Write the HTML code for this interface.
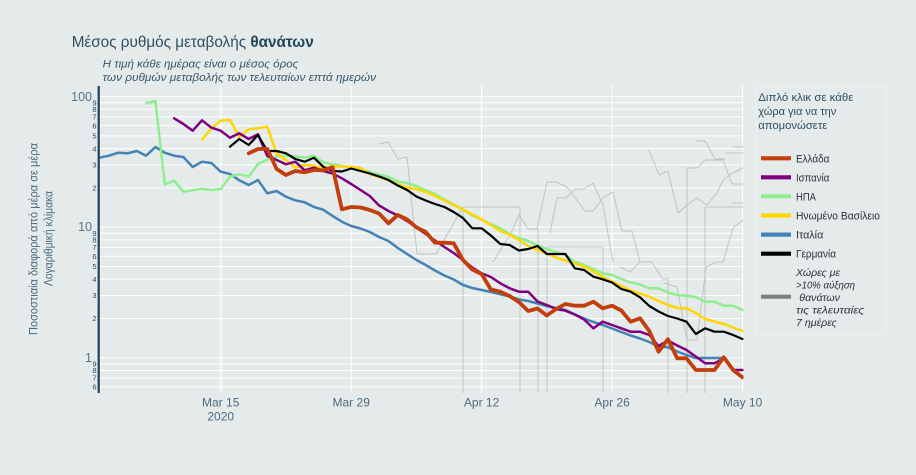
<!DOCTYPE html>
<html><head><meta charset="utf-8"><style>
html,body{margin:0;padding:0;background:#e5ebeb;}
svg{display:block;font-family:"Liberation Sans",Arial,sans-serif;}
</style></head><body>
<svg width="916" height="475" viewBox="0 0 916 475" xmlns="http://www.w3.org/2000/svg">
<rect x="0" y="0" width="916" height="475" fill="#e5ebeb"/>
<defs><clipPath id="pc"><rect x="99" y="86" width="644.5" height="307"/></clipPath></defs>

<!-- gridlines -->
<g stroke="#ffffff" stroke-width="1">
<line x1="99" x2="743" y1="96.6" y2="96.6"/><line x1="99" x2="743" y1="102.6" y2="102.6"/><line x1="99" x2="743" y1="109.3" y2="109.3"/><line x1="99" x2="743" y1="116.8" y2="116.8"/><line x1="99" x2="743" y1="125.6" y2="125.6"/><line x1="99" x2="743" y1="135.9" y2="135.9"/><line x1="99" x2="743" y1="148.6" y2="148.6"/><line x1="99" x2="743" y1="164.9" y2="164.9"/><line x1="99" x2="743" y1="187.9" y2="187.9"/>
<line x1="99" x2="743" y1="227.2" y2="227.2"/><line x1="99" x2="743" y1="233.2" y2="233.2"/><line x1="99" x2="743" y1="239.9" y2="239.9"/><line x1="99" x2="743" y1="247.4" y2="247.4"/><line x1="99" x2="743" y1="256.2" y2="256.2"/><line x1="99" x2="743" y1="266.5" y2="266.5"/><line x1="99" x2="743" y1="279.2" y2="279.2"/><line x1="99" x2="743" y1="295.5" y2="295.5"/><line x1="99" x2="743" y1="318.5" y2="318.5"/>
<line x1="99" x2="743" y1="357.8" y2="357.8"/><line x1="99" x2="743" y1="363.8" y2="363.8"/><line x1="99" x2="743" y1="370.5" y2="370.5"/><line x1="99" x2="743" y1="378" y2="378"/><line x1="99" x2="743" y1="386.8" y2="386.8"/>
<line x1="220.7" x2="220.7" y1="86" y2="393"/><line x1="351.2" x2="351.2" y1="86" y2="393"/><line x1="481.6" x2="481.6" y1="86" y2="393"/><line x1="612.1" x2="612.1" y1="86" y2="393"/><line x1="742.6" x2="742.6" y1="86" y2="393"/>
</g>

<g clip-path="url(#pc)" fill="none" stroke-linejoin="round" stroke-linecap="round">
<!-- grey background countries -->
<g stroke="#8f9494" stroke-width="1" opacity="0.45">
<polyline points="379,144 388,142 398,159 407,157 417,254 436,254 463,207 520,207"/>
<polyline points="463,207 463,393"/>
<polyline points="520,207 520,393"/>
<polyline points="538,229 538,393"/>
<polyline points="493,262 511,233 519,215 528,229 537,229 547,182 556,182 567,187 585,211 593,211 603,198 613,192 622,231 632,231 640,262 652,262 663,280 668,278"/>
<polyline points="668,278 668,393"/>
<polyline points="550,233 557,198 566,198 575,189 584,189 593,183 603,205 609,240 613,262"/>
<polyline points="547,393 547,247 603,247 603,393"/>
<polyline points="649,150 659,175 668,171 678,213 687,205 697,198 707,205 717,193 723,180 733,173 743,168"/>
<polyline points="687,393 687,168 697,168 705,160 723,160 732,184 743,184"/>
<polyline points="705,393 705,207 743,207"/>
<polyline points="697,141 705,141 715,159 725,159"/>
<polyline points="733,147 743,147"/><polyline points="725,153 743,153"/><polyline points="733,203 743,203"/>
<polyline points="664,283 677,287 687,340 697,340 706,267 716,262 723,262 733,228 743,220"/>
<polyline points="620,267 630,272 640,262"/>
</g>

<!-- Italy -->
<polyline stroke="#4682b4" stroke-width="2.5" points="99.5,157.7 108.9,155.7 118.2,152.7 127.5,153.3 136.8,151 146.1,155.7 155.4,147 164.8,152.7 174.1,155.7 183.4,157 192.7,167 202,161.7 211.4,163 220.7,171.7 230,174 239.3,180.3 248.7,185 258,180 267.3,193.3 276.6,191 285.9,196.7 295.3,200.3 304.6,202.3 313.9,207 323.2,209.7 332.6,216 341.9,221.7 351.2,226 360.5,228.5 369.8,232 379.1,237 388.5,241 397.8,248 407.1,254 416.4,260 425.7,265 435,270.5 444.4,275.5 453.7,279.5 463,285 472.3,288 481.6,290 490.9,292 500.3,294.3 509.6,296.5 518.9,299.5 528.2,301 537.5,303.5 546.8,306 556.1,308 565.4,310 574.8,314.5 584.1,318.5 593.4,322 602.7,325 612,328.5 621.3,332 630.6,335.5 640,338.5 649.3,342 658.6,346.5 667.9,347.3 677.2,351.5 686.5,355 695.8,358 705.1,358 714.5,358 722,358"/>
<!-- USA -->
<polyline stroke="#90ee90" stroke-width="2.5" points="146.1,103.3 155.4,101 164.8,184.3 174.1,180.7 183.4,191.7 192.7,190.3 202,188.7 211.4,190 220.7,189 230,176.7 239.3,174.3 248.7,176.7 258,164 267.3,159.7 276.6,156.3 285.9,155.7 295.3,156.3 304.6,157.7 313.9,155.7 323.2,162.3 332.6,164.3 341.9,166 351.2,167.3 360.5,169.5 369.8,172 379.1,174.5 388.5,177 397.8,181.5 407.1,183 416.4,186 425.7,190 435,194 444.4,199.5 453.7,204.5 463,209.5 472.3,215.5 481.6,219.5 490.9,224 500.3,228 509.6,234 518.9,238 528.2,241 537.5,245.5 546.8,249 556.1,252 565.4,255 574.8,262 584.1,265 593.4,269 602.7,273.3 612,275 621.3,279 630.6,282.5 640,284.5 649.3,288.3 658.6,288.3 667.9,292.5 677.2,295 686.5,295.7 695.8,297 705.1,301.7 714.5,301.7 723.8,305.7 733.1,305.7 742.4,310"/>
<!-- UK -->
<polyline stroke="#ffd700" stroke-width="2.5" points="202,140 211.4,128.3 220.7,120.7 230,120 239.3,136.7 248.7,129.3 258,128.3 267.3,126.7 276.6,153.3 285.9,160 295.3,167.7 304.6,165 313.9,165.7 323.2,168.3 332.6,166 341.9,166.5 351.2,167 360.5,168 369.8,174 379.1,177 388.5,180.5 397.8,184.5 407.1,187.5 416.4,189 425.7,192 435,196 444.4,200.5 453.7,205 463,209.5 472.3,214.5 481.6,219.5 490.9,225 500.3,231 509.6,234.5 518.9,240 528.2,246 537.5,250 546.8,253.5 556.1,257.5 565.4,260.5 574.8,263.5 584.1,266.7 593.4,271.5 602.7,277 612,281.5 621.3,286 630.6,290.5 640,293.5 649.3,296.7 658.6,301 667.9,305 677.2,308 686.5,308.3 695.8,313 705.1,319 714.5,321.5 723.8,324 733.1,327.5 742.4,331"/>
<!-- Spain -->
<polyline stroke="#800080" stroke-width="2.5" points="174.1,118.3 183.4,124 192.7,130.7 202,120.3 211.4,127.7 220.7,130.7 230,137.7 239.3,133.3 248.7,139 258,134.3 267.3,156 276.6,160 285.9,164.3 295.3,161.7 304.6,170.3 313.9,167.7 323.2,171 332.6,173.5 341.9,178.3 351.2,184 360.5,190 369.8,196 379.1,205.5 388.5,211 397.8,215.5 407.1,221 416.4,227.5 425.7,234 435,240.5 444.4,247 453.7,253 463,260 472.3,267.5 481.6,273.3 490.9,277 500.3,283.3 509.6,288.3 518.9,291.7 528.2,291.7 537.5,301.5 546.8,305 556.1,309 565.4,310.7 574.8,314.5 584.1,319.5 593.4,328.3 602.7,321.7 612,325 621.3,328.3 630.6,331.7 640,331.7 649.3,335 658.6,346 667.9,340.5 677.2,345.5 686.5,350 695.8,356.5 705.1,363.3 714.5,363.3 723.8,358.3 733.1,370 742.4,370"/>
<!-- Germany -->
<polyline stroke="#000000" stroke-width="2.2" points="230,146.7 239.3,139 248.7,145 258,135 267.3,151 276.6,151 285.9,153.3 295.3,159 304.6,161.7 313.9,157.7 323.2,166.7 332.6,171 341.9,171.5 351.2,168.5 360.5,171 369.8,173.5 379.1,176.5 388.5,180 397.8,185.5 407.1,190 416.4,196.5 425.7,200.5 435,204 444.4,207 453.7,212 463,218 472.3,228.3 481.6,228.3 490.9,235.5 500.3,244 509.6,245 518.9,250.5 528.2,249 537.5,246 546.8,254 556.1,254 565.4,254 574.8,268.3 584.1,270 593.4,276.7 602.7,279.3 612,282.5 621.3,289 630.6,291.7 640,297.3 649.3,306 658.6,311.5 667.9,316 677.2,318.5 686.5,321.7 695.8,334 705.1,328.3 714.5,331.7 723.8,331.7 733.1,335 742.4,339"/>
<!-- Greece -->
<polyline stroke="#c23e0c" stroke-width="3.8" points="248.7,153.3 258,149 267.3,149 276.6,169 285.9,175 295.3,171 304.6,172.3 313.9,170 323.2,170.3 332.6,167.3 341.9,209.3 351.2,207 360.5,207.5 369.8,210 379.1,213.5 388.5,223.3 397.8,215 407.1,219.5 416.4,227.3 425.7,232 435,242.7 444.4,242.7 453.7,243.3 463,260 472.3,269.5 481.6,274 490.9,289.5 500.3,291.7 509.6,296 518.9,302 528.2,311 537.5,308.5 546.8,315.5 556.1,309 565.4,304 574.8,305.7 584.1,305.7 593.4,301.7 602.7,308.3 612,305.7 621.3,310.5 630.6,321.7 640,318.3 649.3,331 658.6,351.7 667.9,339.3 677.2,358.3 686.5,358.3 695.8,370 705.1,370 714.5,370 723.8,357.3 733.1,370 742.4,377.3"/>
</g>

<!-- y axis line -->
<line x1="98.7" x2="98.7" y1="86" y2="393" stroke="#17435e" stroke-width="2.2"/>

<!-- y major tick labels -->
<g fill="#557386" font-size="12.5" text-anchor="end">
<text x="92" y="100.8">100</text>
<text x="92" y="231.2">10</text>
<text x="92" y="361.8">1</text>
</g>
<g fill="#2e4c5f" font-size="7.5" text-anchor="end">
<text x="96.5" y="105.3">9</text><text x="96.5" y="112">8</text><text x="96.5" y="119.5">7</text><text x="96.5" y="128.3">6</text><text x="96.5" y="138.6">5</text><text x="96.5" y="151.3">4</text><text x="96.5" y="167.6">3</text><text x="96.5" y="190.6">2</text>
<text x="96.5" y="235.9">9</text><text x="96.5" y="242.6">8</text><text x="96.5" y="250.1">7</text><text x="96.5" y="258.9">6</text><text x="96.5" y="269.2">5</text><text x="96.5" y="281.9">4</text><text x="96.5" y="298.2">3</text><text x="96.5" y="321.2">2</text>
<text x="96.5" y="366.5">9</text><text x="96.5" y="373.2">8</text><text x="96.5" y="380.7">7</text><text x="96.5" y="389.5">6</text>
</g>

<!-- x tick labels -->
<g fill="#4d6b80" font-size="12" text-anchor="middle">
<text x="220.7" y="406.5">Mar 15</text>
<text x="220.7" y="420.5">2020</text>
<text x="351.2" y="406.5">Mar 29</text>
<text x="481.6" y="406.5">Apr 12</text>
<text x="612.1" y="406.5">Apr 26</text>
<text x="742.6" y="406.5">May 10</text>
</g>

<!-- y axis title -->
<g fill="#4d6b80" font-size="11.5" text-anchor="middle">
<text transform="translate(37.3,239) rotate(-90)" textLength="192" lengthAdjust="spacingAndGlyphs">Ποσοστιαία διαφορά από μέρα σε μέρα</text>
<text transform="translate(52.3,238.5) rotate(-90)" textLength="95" lengthAdjust="spacingAndGlyphs">Λογαριθμική κλίμακα</text>
</g>

<!-- title -->
<text x="71.7" y="46.8" font-size="16" fill="#2f4e61" textLength="242" lengthAdjust="spacingAndGlyphs">Μέσος ρυθμός μεταβολής <tspan font-weight="bold" fill="#1f4458">θανάτων</tspan></text>
<g font-size="11.5" font-style="italic" fill="#3a5668">
<text x="102.7" y="67.6" textLength="195.6" lengthAdjust="spacingAndGlyphs">Η τιμή κάθε ημέρας είναι ο μέσος όρος</text>
<text x="102.7" y="80.8" textLength="273.3" lengthAdjust="spacingAndGlyphs">των ρυθμών μεταβολής των τελευταίων επτά ημερών</text>
</g>

<!-- legend -->
<rect x="756" y="86" width="130" height="249" fill="#e5ebeb" stroke="#eef2f2" stroke-width="1"/>
<g font-size="11" fill="#2f4e61">
<text x="758.3" y="100.8" textLength="95" lengthAdjust="spacingAndGlyphs">Διπλό κλικ σε κάθε</text>
<text x="758.3" y="114.8" textLength="78" lengthAdjust="spacingAndGlyphs">χώρα για να την</text>
<text x="758.3" y="128.8" textLength="69" lengthAdjust="spacingAndGlyphs">απομονώσετε</text>
</g>
<g stroke-width="4.2">
<line x1="761" x2="791" y1="158.3" y2="158.3" stroke="#c23e0c"/>
<line x1="761" x2="791" y1="177.3" y2="177.3" stroke="#800080"/>
<line x1="761" x2="791" y1="196.3" y2="196.3" stroke="#90ee90"/>
<line x1="761" x2="791" y1="215.5" y2="215.5" stroke="#ffd700"/>
<line x1="761" x2="791" y1="234.6" y2="234.6" stroke="#4682b4"/>
<line x1="761" x2="791" y1="253.7" y2="253.7" stroke="#000000"/>
<line x1="761" x2="791" y1="296.7" y2="296.7" stroke="#808080"/>
</g>
<g font-size="11" fill="#2a3238">
<text x="796" y="162.3" textLength="33.3" lengthAdjust="spacingAndGlyphs">Ελλάδα</text>
<text x="796" y="181.3" textLength="33.3" lengthAdjust="spacingAndGlyphs">Ισπανία</text>
<text x="796" y="200.3" textLength="20" lengthAdjust="spacingAndGlyphs">ΗΠΑ</text>
<text x="796" y="219.5" textLength="84" lengthAdjust="spacingAndGlyphs">Ηνωμένο Βασίλειο</text>
<text x="796" y="238.6" textLength="27.3" lengthAdjust="spacingAndGlyphs">Ιταλία</text>
<text x="796" y="257.7" textLength="40" lengthAdjust="spacingAndGlyphs">Γερμανία</text>
</g>
<g font-size="10.5" font-style="italic" fill="#2a3238">
<text x="796" y="275.8" textLength="44" lengthAdjust="spacingAndGlyphs">Χώρες με</text>
<text x="796" y="288.4" textLength="59" lengthAdjust="spacingAndGlyphs">&gt;10% αύξηση</text>
<text x="799.3" y="301" textLength="40.7" lengthAdjust="spacingAndGlyphs">θανάτων</text>
<text x="796" y="313.6" textLength="68" lengthAdjust="spacingAndGlyphs">τις τελευταίες</text>
<text x="796" y="326.2" textLength="40.7" lengthAdjust="spacingAndGlyphs">7 ημέρες</text>
</g>
</svg>
</body></html>
